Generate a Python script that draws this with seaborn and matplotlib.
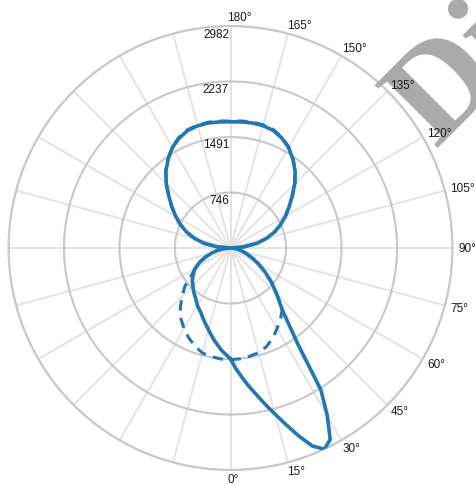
import numpy as np
import pandas as pd
import matplotlib
matplotlib.use("Agg")
import matplotlib.pyplot as plt
import matplotlib.transforms as mtrans
import seaborn as sns

# ---- data (luminous intensity, cd) ----
# C0 plane (right half, solid), finer steps around the main beam
gamma_c0 = [0, 2.5, 5, 7.5, 10, 12.5, 15, 17.5, 20, 22.5, 25, 27.5, 30, 32.5, 35, 37.5, 40,
            45, 50, 55, 60, 65, 70, 75, 80, 85, 90,
            95, 100, 105, 110, 115, 120, 125, 130, 135, 140, 145, 150, 155, 160, 165, 170, 175, 180]
c0 = [1490, 1620, 1740, 1870, 2000, 2150, 2310, 2490, 2690, 2880, 2982, 2900, 2600, 2260, 1580, 1280, 1080,
      880, 720, 570, 440, 330, 236, 160, 100, 45, 0,
      180, 360, 500, 630, 740, 850, 960, 1080, 1220, 1350, 1460, 1560, 1630, 1680, 1700, 1705, 1700, 1695]

gamma = list(range(0, 181, 5))
# C180 plane (left half, solid)
c180 = [1490, 1380, 1260, 1140, 1040, 950, 890, 820, 770, 715, 670, 610, 550, 460, 360, 260, 170, 85, 0,
        180, 360, 500, 630, 740, 850, 960, 1080, 1220, 1350, 1460, 1560, 1630, 1680, 1700, 1705, 1700, 1695]
# C90 plane (right half, dashed)
c90 = [1500, 1495, 1478, 1455, 1410, 1340, 1250, 1170, 1080, 880, 720, 570, 440, 330, 236, 160, 100, 45, 0,
       185, 365, 505, 635, 745, 855, 965, 1085, 1225, 1355, 1465, 1565, 1640, 1690, 1712, 1718, 1712, 1705]
# C270 plane (left half, dashed)
c270 = [1500, 1497, 1480, 1460, 1400, 1330, 1250, 1160, 1050, 920, 800, 640, 550, 460, 360, 260, 170, 85, 0,
        185, 365, 505, 635, 745, 855, 965, 1085, 1225, 1355, 1465, 1565, 1640, 1690, 1710, 1716, 1712, 1705]

r_ticks = [746, 1491, 2237, 2982]
angle_labels = list(range(0, 181, 15))
watermark = "Di"

# ---- styling ----
sns.set_theme(style="white")
plt.rcParams['font.family'] = ['Liberation Sans', 'DejaVu Sans']

BLUE = '#1f77b4'
RING = '#c8c8c8'
SPOKE = '#e3e3e3'
TXT = '#1a1a1a'

fig = plt.figure(figsize=(4.76, 4.85), dpi=100)
fig.patch.set_facecolor('white')
ax = fig.add_axes([8.5 / 476, 14 / 485, 444 / 476, 444 / 485], projection='polar')
ax.set_theta_zero_location('S')
ax.set_theta_direction(1)
ax.set_ylim(0, r_ticks[-1])
ax.set_yticks(r_ticks)
ax.set_yticklabels([])
ax.set_xticks(np.deg2rad(np.arange(0, 360, 15)))
ax.set_xticklabels([])
ax.tick_params(length=0, pad=0)
ax.xaxis.grid(True, color=SPOKE, lw=1.4)
ax.yaxis.grid(True, color=RING, lw=1.5)
ax.spines['polar'].set_color(RING)
ax.spines['polar'].set_linewidth(1.5)
ax.set_facecolor('white')

solid = pd.DataFrame({
    'theta': np.deg2rad(np.r_[np.array(gamma_c0, float), -np.array(gamma[::-1], float)]),
    'r': np.r_[np.array(c0, float), np.array(c180[::-1], float)],
})
dashed = pd.DataFrame({
    'theta': np.deg2rad(np.r_[np.array(gamma, float), -np.array(gamma[::-1], float)]),
    'r': np.r_[np.array(c90, float), np.array(c270[::-1], float)],
})

sns.lineplot(data=dashed, x='theta', y='r', sort=False, estimator=None, ax=ax,
             color=BLUE, lw=2.2, zorder=4)
ax.lines[-1].set_linestyle((0, (3.4, 2.4)))
sns.lineplot(data=solid, x='theta', y='r', sort=False, estimator=None, ax=ax,
             color=BLUE, lw=2.6, zorder=5)
ax.lines[-1].set_solid_joinstyle('round')
ax.set_xlabel('')
ax.set_ylabel('')
ax.set_ylim(0, r_ticks[-1])

# watermark (behind the labels, above the grid)
ax.text(435.5 / 476, 1 - 148.5 / 485, watermark, transform=fig.transFigure, rotation=45,
        rotation_mode='anchor', ha='left', va='baseline', fontsize=97,
        family='Liberation Serif', weight='bold', color='#a9a9a9', zorder=6, clip_on=False)

# radial value labels along the 180° spoke
rtr = mtrans.offset_copy(ax.transData, fig=fig, x=-1.5, y=-7.5, units='dots')
for v in r_ticks:
    ax.text(np.pi, v, str(v), ha='right', va='center', transform=rtr,
            fontsize=8.5, color=TXT, zorder=7, clip_on=False)

# angle labels on the right half
atr = mtrans.offset_copy(ax.transData, fig=fig, x=-3.5, y=0, units='dots')
for a in angle_labels:
    ax.text(np.deg2rad(a), r_ticks[-1] * 231 / 222, f"{a}°", ha='left', va='center',
            transform=atr, fontsize=8.5, color=TXT, zorder=7, clip_on=False)

fig.savefig('out.png', dpi=100, facecolor='white')
